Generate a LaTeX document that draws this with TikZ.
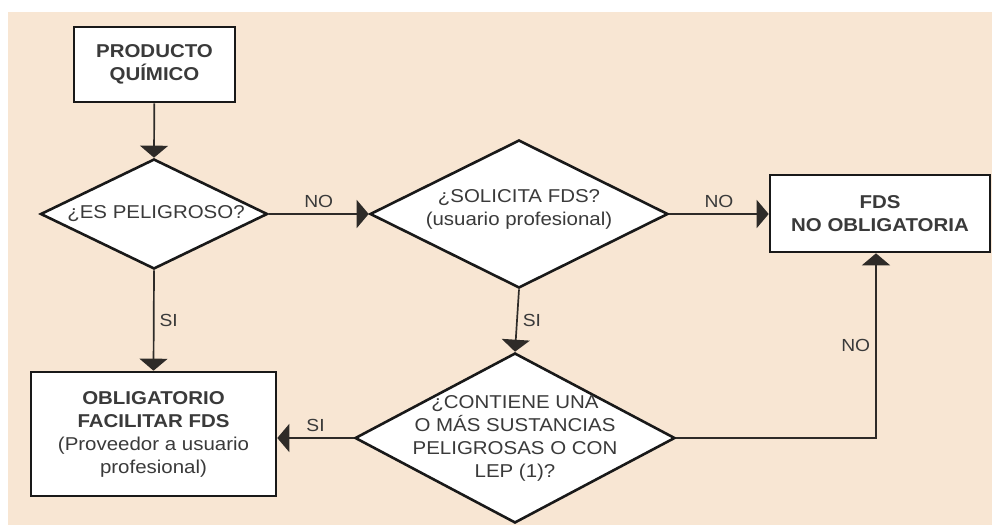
\documentclass[tikz,border=0pt]{standalone}
\usepackage{fontspec}
\setmainfont{Liberation Sans}[FakeStretch=1.1]
\usetikzlibrary{shapes.geometric,arrows.meta}
\definecolor{bgpeach}{HTML}{F8E6D3}
\definecolor{txtgray}{HTML}{3A3A3A}
\definecolor{linegray}{HTML}{2E2B28}
\tikzset{
  base/.style={draw=black!90, line width=2.6pt, fill=white, inner sep=0pt, text=txtgray,
    font=\fontsize{18.6}{23}\selectfont, align=center},
  boxnode/.style={base, rectangle},
  decision/.style={base, diamond},
  txtnode/.style={text=txtgray, font=\fontsize{18.6}{23}\selectfont, align=center, inner sep=0pt},
  conn/.style={draw=linegray, line width=1.7pt, -{Triangle[width=28pt,length=12pt]}},
  lbl/.style={text=txtgray, font=\fontsize{17.5}{20}\selectfont, inner sep=5pt}
}
\begin{document}
\begin{tikzpicture}[x=1pt,y=-1pt]
\useasboundingbox (0,0) rectangle (992,525);
\fill[white] (0,0) rectangle (992,525);
\fill[bgpeach] (8,12) rectangle (992,525);

\node[boxnode, minimum width=161pt, minimum height=75pt] (prod) at (154.5,64.5)
  {\bfseries PRODUCTO\\\bfseries QUÍMICO};
\node[decision, minimum width=227pt, minimum height=110pt] (d1) at (154,214) {};
\node[txtnode] (d1t) at (156,214) {¿ES PELIGROSO?};
\node[decision, minimum width=298pt, minimum height=148pt] (d2) at (519,214) {};
\node[txtnode] (d2t) at (519,209) {¿SOLICITA FDS?\\(usuario profesional)};
\node[boxnode, minimum width=220pt, minimum height=77pt] (fds) at (880,213.5)
  {\bfseries FDS\\\bfseries NO OBLIGATORIA};
\node[boxnode, minimum width=245pt, minimum height=124pt] (obl) at (153.5,434)
  {\bfseries OBLIGATORIO\\\bfseries FACILITAR FDS\\(Proveedor a usuario\\profesional)};
\node[decision, minimum width=320pt, minimum height=170pt] (d3) at (515,438) {};
\node[txtnode] (d3t) at (515,438) {¿CONTIENE UNA\\O MÁS SUSTANCIAS\\PELIGROSAS O CON\\LEP (1)?};

\draw[conn] (prod) -- (d1.north);
\draw[conn] (d1.east) -- node[lbl, above] {NO} (d2.west);
\draw[conn] (d2.east) -- node[lbl, above] {NO} (fds.west |- d2.east);
\draw[conn] (d1.south) -- node[lbl, right] {SI} (obl.north);
\draw[conn] (d2.south) -- node[lbl, right] {SI} (d3.north);
\draw[conn] (d3.west) -- node[lbl, above] {SI} (obl.east |- d3.west);
\draw[conn] (d3.east) -| node[lbl, left, pos=0.75] {NO} (fds.south -| 876,0);
\end{tikzpicture}
\end{document}
